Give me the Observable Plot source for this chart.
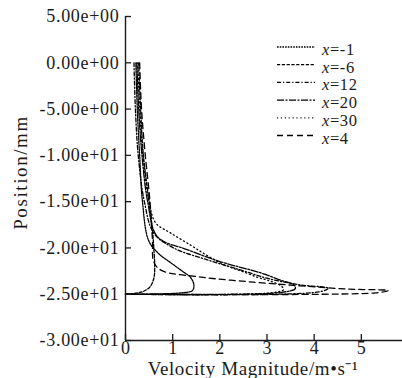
<!DOCTYPE html>
<html><head><meta charset="utf-8">
<script src="https://cdn.jsdelivr.net/npm/d3@7"></script>
<script src="https://cdn.jsdelivr.net/npm/@observablehq/plot@0.6"></script>
<style>
html,body{margin:0;padding:0;background:#fff;}
#wrap{position:relative;width:402px;height:378px;overflow:hidden;background:#fff;}
#wrap > svg{max-width:none !important;width:408px !important;height:378px !important;}
#legend{position:absolute;left:0;top:0;pointer-events:none;}
#wrap svg text{font-family:"Liberation Serif","Times New Roman",serif;}
</style></head><body><div id="wrap"></div>
<script>
// Tick values and labels
const xTicks = [0, 1, 2, 3, 4, 5, 6];
const yTicks = [5, 0, -5, -10, -15, -20, -25, -30];
const yTickLabels = ["5.00e+00", "0.00e+00", "-5.00e+00", "-1.00e+01", "-1.50e+01", "-2.00e+01", "-2.50e+01", "-3.00e+01"];
const xLabel = "Velocity Magnitude/m\u2022s\u207B\u00B9";
const yLabel = "Position/mm";

// Series (legend order)
const seriesNames = ["=-1", "=-6", "=12", "=20", "=30", "=4"];
const seriesDash = ["1.6,1.1", "3.2,1.6", "4,2,1.2,2", "7,1.5,2,1.5", "1.1,2.8", "6,4"];

// Velocity magnitude (m/s) and position (mm) per series
const vel_m1 = [0.22, 0.25, 0.30, 0.36, 0.49, 0.70, 0.96, 1.20, 1.38, 1.45, 1.42, 1.20, 0];
const pos_m1 = [0, -5, -10, -15, -19.2, -20.6, -21.6, -22.5, -23.2, -24.0, -24.6, -24.85, -25];
const vel_m6 = [0.28, 0.32, 0.38, 0.50, 0.57, 0.60, 0.62, 0.60, 0.52, 0.35, 0];
const pos_m6 = [0, -5, -10, -15, -18, -20, -22, -23.3, -24.2, -24.75, -25];
const vel_12 = [0.18, 0.21, 0.27, 0.40, 0.60, 1.02, 1.74, 2.45, 3.02, 3.72, 4.30, 4.10, 0];
const pos_12 = [0, -5, -10, -15, -18.4, -20.0, -21.3, -22.4, -23.3, -24.0, -24.35, -24.75, -25];
const vel_20 = [0.24, 0.28, 0.35, 0.47, 0.68, 1.32, 2.02, 2.87, 3.30, 3.57, 3.60, 3.30, 0];
const pos_20 = [0, -5, -10, -15, -18.8, -20.2, -21.5, -22.7, -23.5, -24.0, -24.4, -24.8, -25];
const vel_30 = [0.26, 0.30, 0.37, 0.50, 0.64, 0.96, 1.38, 1.66, 1.96, 2.23, 2.51, 2.81, 3.02, 3.30, 3.35, 3.10, 0];
const pos_30 = [0, -5, -10, -15, -17.3, -18.4, -19.7, -20.6, -21.5, -22.1, -22.6, -23.2, -23.5, -24.1, -24.5, -24.85, -25];
const vel_4 = [0.30, 0.34, 0.42, 0.52, 0.57, 0.60, 0.75, 1.60, 2.72, 3.72, 4.72, 5.57, 5.30, 0];
const pos_4 = [0, -5, -10, -15, -19, -21.5, -22.4, -23.15, -23.7, -24.1, -24.45, -24.6, -24.85, -25];

const seriesVel = [vel_m1, vel_m6, vel_12, vel_20, vel_30, vel_4];
const seriesPos = [pos_m1, pos_m6, pos_12, pos_20, pos_30, pos_4];

const yLabelMap = new Map(yTicks.map((t, i) => [t, yTickLabels[i]]));
const ink = "#1a1a1a";
const serif = "'Liberation Serif', 'Times New Roman', serif";

const lineMarks = seriesNames.map((name, i) => {
  const rows = seriesVel[i].map((v, j) => ({v, p: seriesPos[i][j]}));
  return Plot.line(rows, {x: "v", y: "p", stroke: "black", strokeWidth: 1.3,
    strokeDasharray: seriesDash[i], curve: "catmull-rom"});
});

const chart = Plot.plot({
  width: 408, height: 378,
  marginLeft: 125, marginRight: 0, marginTop: 16, marginBottom: 38,
  style: {fontFamily: serif, fontSize: "18px", color: ink, background: "white", maxWidth: "none"},
  x: {domain: [0, 6]},
  y: {domain: [-30, 5]},
  marks: [
    ...lineMarks,
    Plot.ruleX([0], {stroke: ink, strokeWidth: 1.4}),
    Plot.ruleY([-30], {stroke: ink, strokeWidth: 1.4}),
    Plot.axisY(yTicks, {tickSize: 6, dx: 6, tickFormat: () => "", label: null, stroke: ink, strokeWidth: 1.3}),
    Plot.axisX(xTicks, {tickSize: 6, dy: -6, tickFormat: () => "", label: null, stroke: ink, strokeWidth: 1.3}),
    Plot.axisY(yTicks, {tickSize: 0, tickPadding: 6, tickFormat: d => yLabelMap.get(d), label: null, fill: ink, fontSize: 18, fontFamily: serif}),
    Plot.axisX(xTicks, {tickSize: 0, tickPadding: 1, label: null, fill: ink, fontSize: 18, fontFamily: serif}),
    Plot.text([yLabel], {text: d => d, frameAnchor: "left", rotate: -90, textAnchor: "middle", lineAnchor: "middle", dx: -105, dy: -6, fill: ink, fontSize: 19, fontFamily: serif}),
    Plot.text([xLabel], {text: d => d, frameAnchor: "bottom", textAnchor: "middle", lineAnchor: "middle", dx: -14, dy: 28, fill: ink, fontSize: 19, fontFamily: serif})
  ]
});

const wrap = document.getElementById("wrap");
wrap.appendChild(chart);

// Letter spacing tweaks to match the wide reference typography
d3.select(chart).selectAll("text").each(function () {
  const s = this.textContent;
  if (s === yLabel) this.style.letterSpacing = "1.6px";
  else if (s === xLabel) this.style.letterSpacing = "0.6px";
  else if (yTickLabels.includes(s)) this.style.letterSpacing = "0.7px";
});

// Legend
const leg = d3.select(wrap).append("svg").attr("id", "legend").attr("width", 402).attr("height", 160);
seriesNames.forEach((name, i) => {
  const y = 47 + i * 17.7;
  leg.append("line").attr("x1", 277).attr("x2", 315).attr("y1", y).attr("y2", y)
    .attr("stroke", "black").attr("stroke-width", 1.3).attr("stroke-dasharray", seriesDash[i]);
  const t = leg.append("text").attr("x", 322).attr("y", y + 8)
    .attr("font-family", serif).attr("font-size", 16.5).attr("fill", ink)
    .style("letter-spacing", "0.6px");
  t.append("tspan").attr("font-style", "italic").text("x");
  t.append("tspan").text(name);
});
</script></body></html>
